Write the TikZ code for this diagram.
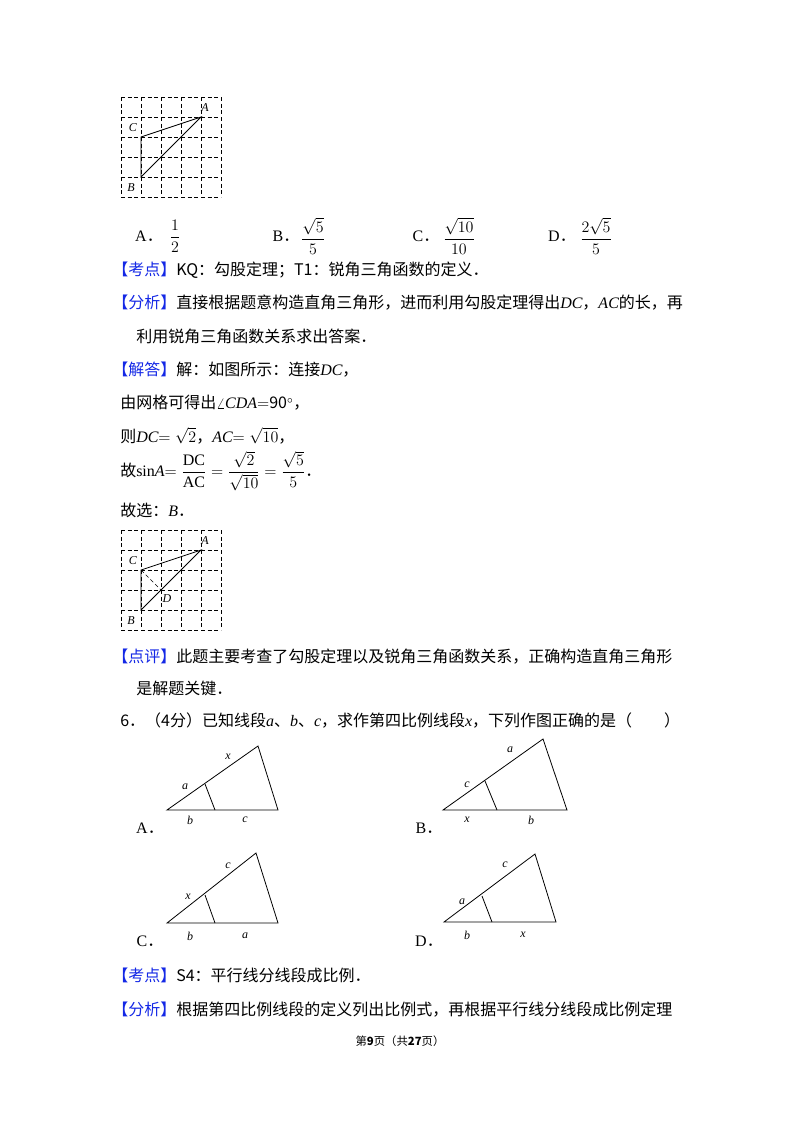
\documentclass[tikz,border=0pt]{standalone}
\usepackage{fontspec}
\usepackage{amsmath}
\setmainfont{Liberation Serif}
\newfontfamily\cjk{Noto Sans CJK SC}
\usetikzlibrary{positioning}
\definecolor{tagblue}{RGB}{20,40,230}
\newcommand\var[1]{{\rmfamily\itshape #1}}
\newcommand\headtag[1]{{\color{tagblue}【#1】}}
\tikzset{
  txt/.style={anchor=west, inner sep=0pt, font=\cjk\fontsize{12}{14}\selectfont},
  grid line/.style={densely dashed, thin},
  seg/.style={semithick},
  lbl/.style={inner sep=0pt, font=\rmfamily\itshape\fontsize{9}{10}\selectfont},
  choice/.style={inner sep=0pt, font=\cjk\fontsize{12}{14}\selectfont},
}
\begin{document}
\begin{tikzpicture}[x=0.75pt, y=-0.75pt]
    \useasboundingbox[fill=white] (0,0) rectangle (800,1132);

    %grids
    \foreach \gy in {97,530} {
      \foreach \i in {0,...,5} {
        \draw[grid line] (121+20*\i,\gy) -- (121+20*\i,\gy+100);
        \draw[grid line] (121,\gy+20*\i) -- (221,\gy+20*\i);
      }
    }

    %first triangle
    \coordinate (A1) at (201,117);
    \coordinate (C1) at (141,137);
    \coordinate (B1) at (141,177);
    \draw[seg] (A1) -- (C1) -- (B1) -- cycle;
    \node[lbl] (nA1) at (205,108) {A};
    \node[lbl] (nC1) at (133,128) {C};
    \node[lbl] (nB1) at (131,188) {B};

    %choices
    \node[choice] (ca) at (149,236) {{\rmfamily A}．};
    \node[choice] (fa) at (175,236) {$\dfrac{1}{2}$};
    \node[choice] (cb) at (286,236) {{\rmfamily B}．};
    \node[choice] (fb) at (313,236) {$\dfrac{\sqrt{5}}{5}$};
    \node[choice] (cc) at (426,236) {{\rmfamily C}．};
    \node[choice] (fc) at (459,236) {$\dfrac{\sqrt{10}}{10}$};
    \node[choice] (cd) at (562,236) {{\rmfamily D}．};
    \node[choice] (fd) at (596,236) {$\dfrac{2\sqrt{5}}{5}$};

    %solution
    \node[txt] (l1) at (112,270) {\headtag{考点}KQ：勾股定理；T1：锐角三角函数的定义．};
    \node[txt] (l2) at (112,303) {\headtag{分析}直接根据题意构造直角三角形，进而利用勾股定理得出\var{DC}，\var{AC}的长，再};
    \node[txt] (l3) at (136,336) {利用锐角三角函数关系求出答案．};
    \node[txt] (l4) at (112,370) {\headtag{解答}解：如图所示：连接\var{DC}，};
    \node[txt] (l5) at (120,403) {由网格可得出$\angle$\var{CDA}$=$90$^\circ$，};
    \node[txt] (l6) at (120,436) {则\var{DC}$=\sqrt{2}$，\var{AC}$=\sqrt{10}$，};
    \node[txt] (l7) at (120,471) {故{\rmfamily sin}\var{A}$=\dfrac{\mathrm{DC}}{\mathrm{AC}}=\dfrac{\sqrt{2}}{\sqrt{10}}=\dfrac{\sqrt{5}}{5}$．};
    \node[txt] (l8) at (120,510) {故选：\var{B}．};

    %second triangle
    \coordinate (A2) at (201,550);
    \coordinate (C2) at (141,570);
    \coordinate (B2) at (141,610);
    \coordinate (D2) at (161,590);
    \draw[seg] (A2) -- (C2) -- (B2) -- cycle;
    \draw[thin, densely dashed] (C2) -- (D2);
    \node[lbl] (nA2) at (205,541) {A};
    \node[lbl] (nC2) at (133,561) {C};
    \node[lbl] (nB2) at (131,621) {B};
    \node[lbl] (nD2) at (167,599) {D};

    \node[txt] (l9) at (112,657) {\headtag{点评}此题主要考查了勾股定理以及锐角三角函数关系，正确构造直角三角形};
    \node[txt] (l10) at (136,688) {是解题关键．};
    \node[txt] (l11) at (120,720) {6．（4分）已知线段\var{a}、\var{b}、\var{c}，求作第四比例线段\var{x}，下列作图正确的是（\quad\quad）};

    %option A
    \coordinate (aO) at (167,810); \coordinate (aR) at (278,810);
    \coordinate (aT) at (258,746); \coordinate (aP) at (205,784);
    \coordinate (aQ) at (215,810);
    \draw[seg] (aO) -- (aR) -- (aT) -- cycle;
    \draw[seg] (aP) -- (aQ);
    \node[lbl] (ax) at (228,757) {x};
    \node[lbl] (aa) at (185,787) {a};
    \node[lbl] (ab) at (190,820) {b};
    \node[lbl] (ac) at (245,820) {c};
    \node[choice] (oa) at (150,828) {{\rmfamily A}．};

    %option B
    \coordinate (bO) at (443,810); \coordinate (bR) at (567,810);
    \coordinate (bT) at (543,739); \coordinate (bP) at (485,781);
    \coordinate (bQ) at (497,810);
    \draw[seg] (bO) -- (bR) -- (bT) -- cycle;
    \draw[seg] (bP) -- (bQ);
    \node[lbl] (ba) at (510,750) {a};
    \node[lbl] (bc) at (467,785) {c};
    \node[lbl] (bx) at (467,820) {x};
    \node[lbl] (bb) at (531,820) {b};
    \node[choice] (ob) at (429,828) {{\rmfamily B}．};

    %option C
    \coordinate (cO) at (167,923); \coordinate (cR) at (278,923);
    \coordinate (cT) at (256,853); \coordinate (cP) at (205,895);
    \coordinate (cQ) at (215,923);
    \draw[seg] (cO) -- (cR) -- (cT) -- cycle;
    \draw[seg] (cP) -- (cQ);
    \node[lbl] (cc2) at (228,866) {c};
    \node[lbl] (cx) at (188,897) {x};
    \node[lbl] (cb2) at (190,936) {b};
    \node[lbl] (ca2) at (245,936) {a};
    \node[choice] (oc) at (150,941) {{\rmfamily C}．};

    %option D
    \coordinate (dO) at (444,922); \coordinate (dR) at (556,922);
    \coordinate (dT) at (535,854); \coordinate (dP) at (482,896);
    \coordinate (dQ) at (492,922);
    \draw[seg] (dO) -- (dR) -- (dT) -- cycle;
    \draw[seg] (dP) -- (dQ);
    \node[lbl] (dc) at (505,865) {c};
    \node[lbl] (da) at (462,902) {a};
    \node[lbl] (db) at (467,935) {b};
    \node[lbl] (dx) at (523,935) {x};
    \node[choice] (od) at (429,941) {{\rmfamily D}．};

    \node[txt] (l12) at (112,975) {\headtag{考点}S4：平行线分线段成比例．};
    \node[txt] (l13) at (112,1010) {\headtag{分析}根据第四比例线段的定义列出比例式，再根据平行线分线段成比例定理};

    %footer
    \node[inner sep=0pt, font=\cjk\fontsize{8.5}{10}\selectfont] (foot) at (400,1041) {第\textbf{9}页（共\textbf{27}页）};
\end{tikzpicture}
\end{document}
